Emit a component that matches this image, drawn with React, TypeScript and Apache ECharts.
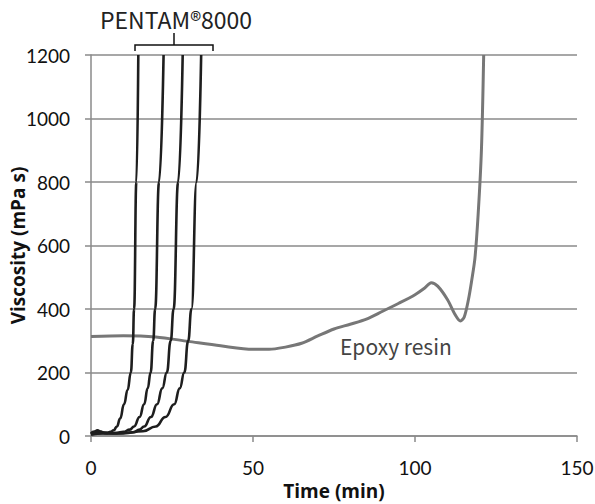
import React, { useEffect, useRef } from "react";
import * as echarts from "echarts";

// PENTAM 8000 curves: [time (min), viscosity (mPa s)]
const pentam1: [number, number][] = [
  [0, 8], [1, 14], [2, 18], [3, 14], [4, 10], [5, 10], [6, 13], [7, 18], [8, 30], [9, 55], [10.2, 100],
  [11.3, 145], [12.3, 200], [12.9, 290], [13.3, 400], [14.0, 800], [14.6, 1200],
];
const pentam2: [number, number][] = [
  [0, 6], [2, 14], [5, 9], [8, 10], [10, 13], [12, 20], [13.3, 30], [15, 60], [16.4, 100], [17.5, 150],
  [18.4, 200], [19.2, 300], [19.8, 400], [21.0, 800], [22.4, 1200],
];
const pentam3: [number, number][] = [
  [0, 5], [3, 10], [8, 8], [13, 12], [15, 20], [16.4, 30], [18.5, 60], [20.4, 100], [22, 150], [23.4, 200],
  [24.6, 300], [25.5, 400], [26.9, 800], [28.3, 1200],
];
const pentam4: [number, number][] = [
  [0, 5], [4, 8], [10, 8], [16, 15], [20, 30], [23, 60], [25.7, 100], [27.4, 150], [28.8, 200], [30.0, 300],
  [31.0, 400], [32.6, 800], [34.0, 1200],
];
// Epoxy resin curve
const epoxy: [number, number][] = [
  [0, 313], [10, 316], [20, 312], [30, 298], [40, 284], [50, 273], [55, 273], [60, 280], [65, 292], [70, 315],
  [75, 337], [80, 352], [85, 368], [90, 393], [95, 418], [100, 445], [103, 466], [105, 483], [107, 472],
  [110, 430], [112.5, 380], [114, 362], [115.2, 375], [116.5, 430], [117.5, 490], [118.5, 560], [119.5, 700],
  [120.5, 900], [121.2, 1200],
];

const xTicks = { min: 0, max: 150, interval: 50 };
const yTicks = { min: 0, max: 1200, interval: 200 };

const xTitle = "Time (min)";
const yTitle = "Viscosity (mPa s)";
const groupLabel = "PENTAM®8000";
const epoxyLabel = "Epoxy resin";

export default function App() {
  const ref = useRef<HTMLDivElement>(null);
  useEffect(() => {
    if (!ref.current) return;
    document.body.style.margin = "0";
    const chart = echarts.init(ref.current, null, { renderer: "svg" });
    const tickFont = "Lato, 'Open Sans', sans-serif";
    const titleFont = "'Open Sans', Lato, sans-serif";
    const cjk = "'Noto Sans CJK JP', 'Noto Sans', sans-serif";
    const axisGray = "#8a8a8a";
    const pentamStyle = { color: "#1e1e1e", width: 2.6 };
    const mk = (data: [number, number][], z: number) => ({
      type: "line" as const,
      data,
      smooth: 0.5,
      smoothMonotone: "x",
      showSymbol: false,
      symbol: "none",
      lineStyle: pentamStyle,
      z,
    });
    chart.setOption({
      animation: false,
      backgroundColor: "#ffffff",
      grid: { left: 91, right: 18, top: 55, bottom: 68, containLabel: false, outerBoundsMode: "none" },
      xAxis: {
        type: "value",
        min: xTicks.min,
        max: xTicks.max,
        interval: xTicks.interval,
        name: xTitle,
        nameLocation: "middle",
        nameGap: 45,
        nameMoveOverlap: false,
        nameTextStyle: { fontFamily: titleFont, fontWeight: "bold", fontSize: 19, color: "#111" },
        axisLine: { show: true, lineStyle: { color: axisGray, width: 1.5 } },
        axisTick: { show: true, length: 6, lineStyle: { color: axisGray, width: 1.5 } },
        axisLabel: { fontFamily: tickFont, fontSize: 19, color: "#111", margin: 22, formatter: (v: number) => String(v) },
        splitLine: { show: false },
      },
      yAxis: {
        type: "value",
        min: yTicks.min,
        max: yTicks.max,
        interval: yTicks.interval,
        name: yTitle,
        nameLocation: "middle",
        nameGap: 64,
        nameMoveOverlap: false,
        nameTextStyle: { fontFamily: titleFont, fontWeight: "bold", fontSize: 19, color: "#111" },
        axisLine: { show: true, lineStyle: { color: axisGray, width: 1.5 } },
        axisTick: { show: true, length: 6, lineStyle: { color: axisGray, width: 1.5 } },
        axisLabel: { fontFamily: tickFont, fontSize: 19, color: "#111", margin: 21, formatter: (v: number) => String(v) },
        splitLine: { show: true, lineStyle: { color: axisGray, width: 1.5 } },
      },
      series: [
        {
          type: "line",
          data: epoxy,
          smooth: 0.3,
          showSymbol: false,
          symbol: "none",
          lineStyle: { color: "#777777", width: 3 },
          z: 2,
        },
        mk(pentam1, 3),
        mk(pentam2, 3),
        mk(pentam3, 3),
        mk(pentam4, 3),
      ],
      graphic: [
        {
          type: "text",
          x: 100,
          y: 19,
          style: {
            text: groupLabel,
            fontFamily: cjk,
            fontSize: 23,
            fill: "#222",
            verticalAlign: "middle",
            align: "left",
          },
        },
        {
          type: "polyline",
          shape: { points: [[135, 51], [135, 45], [213, 45], [213, 51]] },
          style: { stroke: "#111", lineWidth: 1.5, fill: "none" },
        },
        {
          type: "line",
          shape: { x1: 174, y1: 33, x2: 174, y2: 45 },
          style: { stroke: "#111", lineWidth: 1.5 },
        },
        {
          type: "text",
          x: 340,
          y: 346,
          style: {
            text: epoxyLabel,
            fontFamily: cjk,
            fontSize: 21,
            fill: "#444",
            verticalAlign: "middle",
            align: "left",
          },
        },
      ],
    });
    return () => chart.dispose();
  }, []);
  return <div ref={ref} style={{ width: 595, height: 504 }} />;
}
